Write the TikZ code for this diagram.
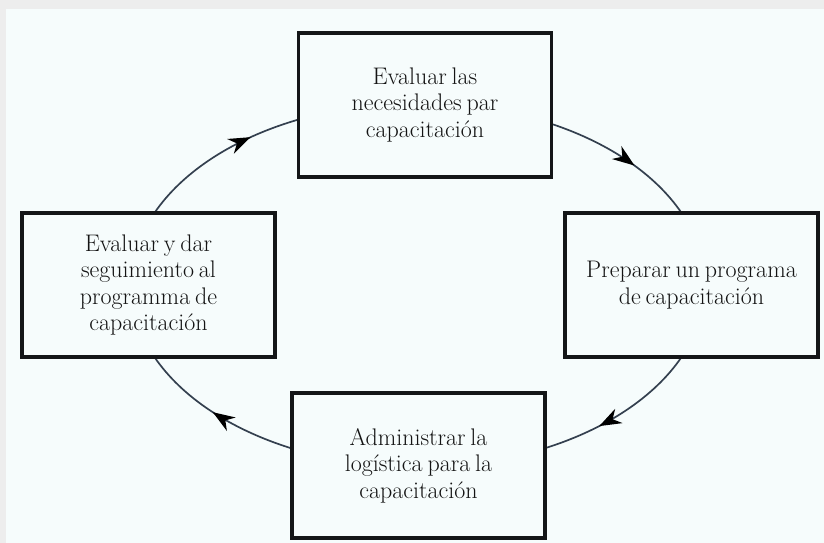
\documentclass[tikz,border=0pt]{standalone}
\usetikzlibrary{arrows.meta,decorations.markings}
\definecolor{bgpale}{HTML}{F6FCFC}
\definecolor{bggray}{HTML}{EDEDED}
\definecolor{boxline}{HTML}{141618}
\definecolor{conncol}{HTML}{34404F}
\newcommand{\stepboxfont}{\fontsize{24pt}{26.5pt}\selectfont\spaceskip=4.8pt plus 1pt minus 1pt\relax}
\tikzset{
  stepbox/.style={draw=boxline, line width=3.2pt, fill=bgpale, minimum width=253pt, minimum height=144pt,
    align=center, inner sep=0pt, font=\stepboxfont, text=black!92},
  conn/.style={draw=conncol, line width=1.7pt},
  midarrow/.style={postaction={decorate, decoration={markings,
    mark=at position #1 with {\arrow[black]{Stealth[length=22pt,width=16pt,inset=7pt]}}}}}
}
\begin{document}
\begin{tikzpicture}[x=1pt,y=1pt]
\useasboundingbox (0,0) rectangle (824,543);
\fill[bggray] (0,0) rectangle (824,543);
\fill[bgpale] (6,0) rectangle (824,534);
\coordinate (C) at (418,258);
% connectors (ellipse arcs)
\draw[conn, midarrow=0.58] ([shift={(62.2:287pt and 182pt)}]C) coordinate (a1)
  arc[start angle=62.2, end angle=23.3, x radius=287pt, y radius=182pt];
\draw[conn, midarrow=0.65] ([shift={(-23.3:287pt and 182pt)}]C) coordinate (a2)
  arc[start angle=-23.3, end angle=-63.7, x radius=287pt, y radius=182pt];
\draw[conn, midarrow=0.52] ([shift={(-116:287pt and 182pt)}]C) coordinate (a3)
  arc[start angle=-116, end angle=-156.7, x radius=287pt, y radius=182pt];
\draw[conn, midarrow=0.71] ([shift={(156.7:287pt and 182pt)}]C) coordinate (a4)
  arc[start angle=156.7, end angle=114.7, x radius=287pt, y radius=182pt];
% boxes
\node[stepbox] (top) at (425,438) {Evaluar las\\necesidades par\\capacitación};
\node[stepbox] (right) at (691.5,258) {Preparar un programa\\de capacitación};
\node[stepbox, minimum height=145pt] (bottom) at (418.5,77.5) {Administrar la\\logística para la\\capacitación};
\node[stepbox] (left) at (148.5,258) {Evaluar y dar\\seguimiento al\\programma de\\capacitación};
\end{tikzpicture}
\end{document}
